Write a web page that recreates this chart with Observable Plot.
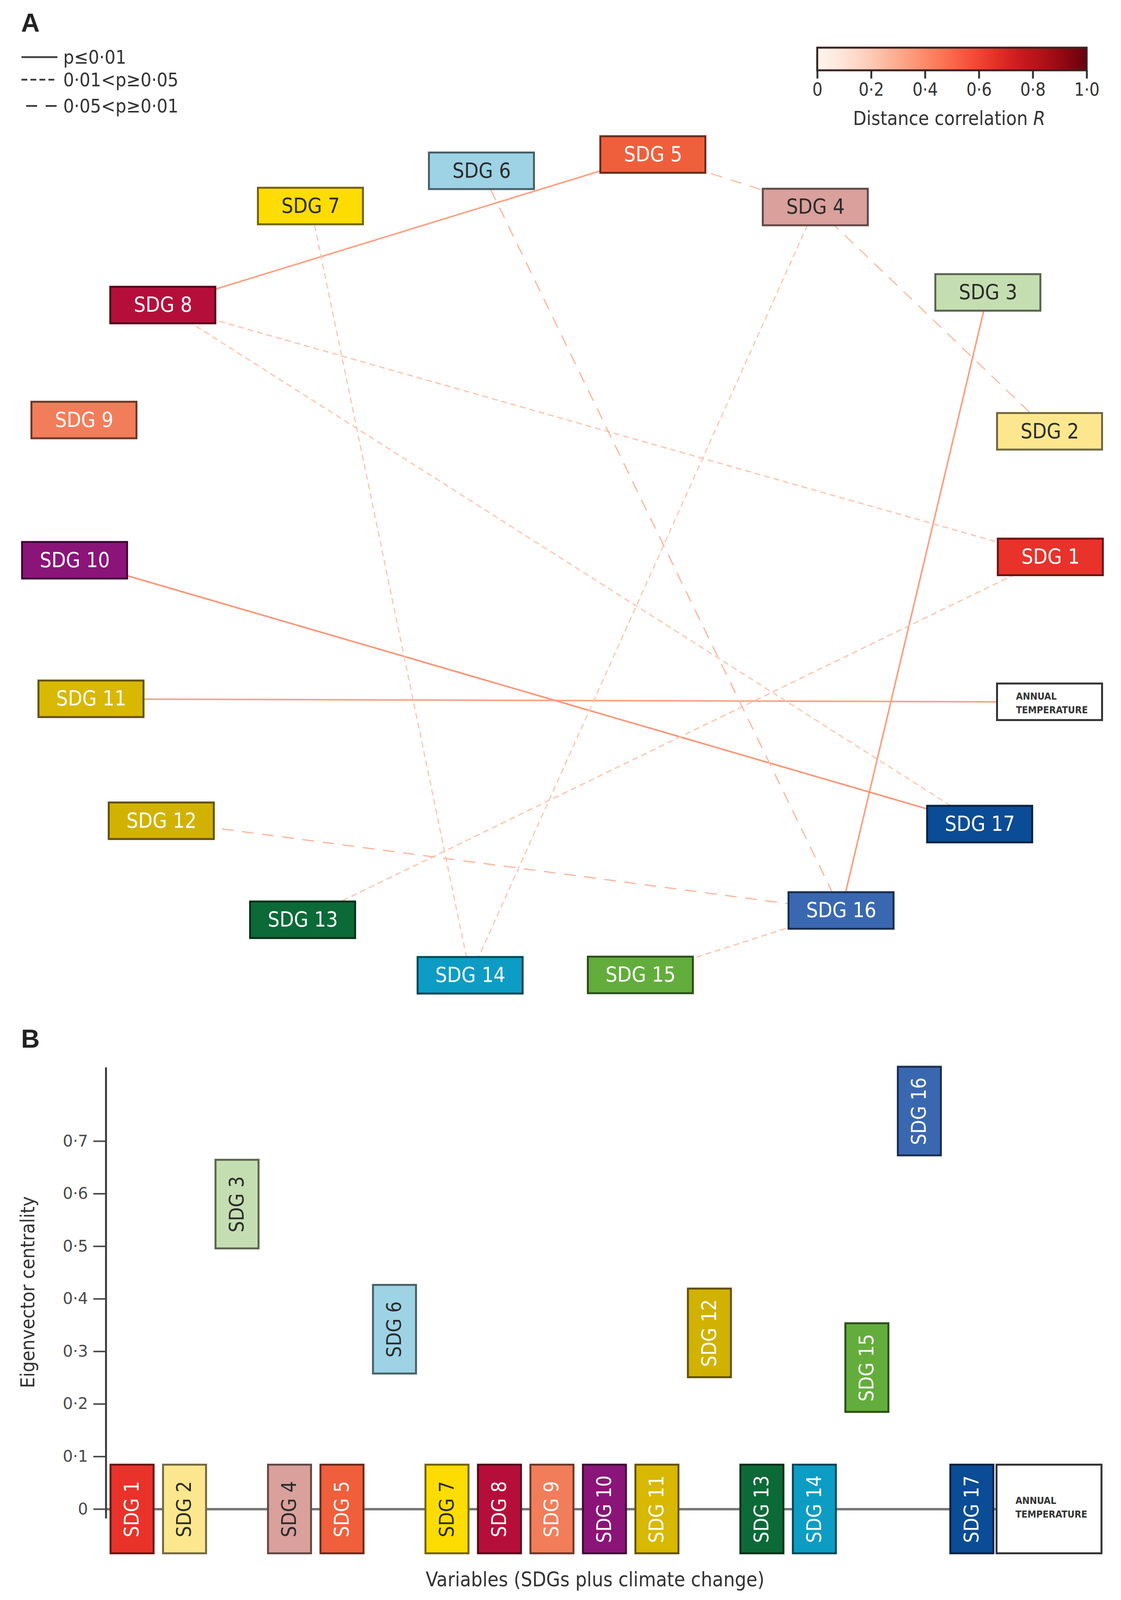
<!DOCTYPE html>
<html><head><meta charset="utf-8">
<script src="https://cdn.jsdelivr.net/npm/d3@7"></script>
<script src="https://cdn.jsdelivr.net/npm/@observablehq/plot@0.6"></script>
<style>
html,body{margin:0;padding:0;background:#fff;overflow:hidden;}
#page{position:relative;width:2871px;overflow:hidden;font-family:'DejaVu Sans Condensed','Open Sans',sans-serif;color:#333;}
.abs{position:absolute;white-space:nowrap;}
</style></head><body><div id="page"></div>
<script>
const FONT = "'DejaVu Sans Condensed','Open Sans',sans-serif";

// ---------- DATA ----------
const nodeNames = ["SDG 1","SDG 2","SDG 3","SDG 4","SDG 5","SDG 6","SDG 7","SDG 8","SDG 9","SDG 10","SDG 11","SDG 12","SDG 13","SDG 14","SDG 15","SDG 16","SDG 17","ANNUAL TEMPERATURE"];
// network layout coordinates
const nodeLayoutX = [2690, 2688, 2530, 2088, 1672, 1233, 795, 417, 215, 191, 233, 413, 775, 1204, 1640, 2154, 2509, 2688];
const nodeLayoutY = [1676, 1298, 880, 623, 465, 514, 620, 918, 1264, 1686, 2103, 2470, 2768, 2935, 2934, 2740, 2480, 2112];

const pClasses = ["p≤0·01", "0·01<p≥0·05", "0·05<p≥0·01"];
const edgeFrom = ["SDG 5","SDG 3","SDG 10","SDG 11","SDG 8","SDG 8","SDG 7","SDG 4","SDG 1","SDG 15","SDG 5","SDG 4","SDG 6","SDG 12"];
const edgeTo   = ["SDG 8","SDG 16","SDG 17","ANNUAL TEMPERATURE","SDG 1","SDG 17","SDG 14","SDG 14","SDG 13","SDG 16","SDG 4","SDG 2","SDG 16","SDG 16"];
const edgeR    = [0.33, 0.34, 0.37, 0.33, 0.22, 0.21, 0.21, 0.21, 0.22, 0.22, 0.24, 0.24, 0.26, 0.26];
const edgeP    = [pClasses[0],pClasses[0],pClasses[0],pClasses[0],pClasses[1],pClasses[1],pClasses[1],pClasses[1],pClasses[1],pClasses[1],pClasses[2],pClasses[2],pClasses[2],pClasses[2]];

const corrTicks = [0, 0.2, 0.4, 0.6, 0.8, 1.0];

// panel B
const centrality = [0, 0, 0.58, 0, 0, 0.342, 0, 0, 0, 0, 0, 0.335, 0, 0, 0.269, 0.757, 0, 0];
const centralityTicks = [0, 0.1, 0.2, 0.3, 0.4, 0.5, 0.6, 0.7];

// palette
const sdgColors = ["#e8322a","#fde78e","#c5deb1","#d9a09c","#ef5f3c","#9dd3e5","#fddc02","#b60e3a","#f27d5a","#8b1479","#d8b800","#d2b200","#0b6a37","#0c9cc4","#63ad3c","#3a68b0","#0a4c95","#ffffff"];
const darkText = new Set(["SDG 2","SDG 3","SDG 4","SDG 6","SDG 7","ANNUAL TEMPERATURE"]);

// ---------- layout: fit the 4816-px design into the actual viewport height ----------
const KY = Math.min(1, (window.innerHeight || 4816) / 4816);
const FS = 0.97;

// ---------- helpers ----------
const fmt = d => d === 0 ? "0" : d3.format(".1f")(d).replace(".", "·");
const fillOf = n => sdgColors[nodeNames.indexOf(n)];
const strokeOf = n => n === "ANNUAL TEMPERATURE" ? "#333" : d3.color(fillOf(n)).darker(2.2).formatHex();
const textOf = n => darkText.has(n) ? "#2b2b2b" : "#ffffff";

const page = document.getElementById("page");
page.style.height = Math.round(4816 * KY) + "px";
function addHTML(html, style) {
  const d = document.createElement("div");
  d.className = "abs";
  d.innerHTML = html;
  Object.assign(d.style, style);
  page.appendChild(d);
  return d;
}

// ---------- PANEL A ----------
const nodes = nodeNames.map((name, i) => ({name, x: nodeLayoutX[i], y: nodeLayoutY[i], temp: name === "ANNUAL TEMPERATURE"}));
const nodeBy = new Map(nodes.map(d => [d.name, d]));
const edges = edgeFrom.map((s, i) => ({s: nodeBy.get(s), t: nodeBy.get(edgeTo[i]), R: edgeR[i], p: edgeP[i]}));

const colorOpts = {type: "linear", scheme: "reds", domain: [0, 1]};
const reds = Plot.scale({color: colorOpts});

const BW = 269, BH = 110;
const dashFor = {[pClasses[0]]: null, [pClasses[1]]: "15,10", [pClasses[2]]: "30,22"};

const linkMark = p => Plot.link(edges.filter(e => e.p === p), {
  x1: e => e.s.x, y1: e => e.s.y, x2: e => e.t.x, y2: e => e.t.y,
  stroke: e => reds.apply(e.R),
  strokeWidth: p === pClasses[0] ? 4 : 3.2,
  strokeDasharray: dashFor[p]
});

const plotA = Plot.plot({
  width: 2871, height: Math.round(3040 * KY), margin: 0,
  x: {domain: [0, 2871], axis: null},
  y: {domain: [0, 3040], reverse: true, axis: null},
  color: {type: "identity"},
  style: {fontFamily: FONT, background: "transparent", overflow: "visible"},
  marks: [
    linkMark(pClasses[0]), linkMark(pClasses[1]), linkMark(pClasses[2]),
    Plot.rect(nodes, {
      x1: d => d.x - BW / 2, x2: d => d.x + BW / 2,
      y1: d => d.y - BH / 2, y2: d => d.y + BH / 2,
      fill: d => fillOf(d.name), stroke: d => strokeOf(d.name), strokeWidth: 5
    }),
    Plot.text(nodes.filter(d => !d.temp), {
      x: "x", y: "y", text: "name", fill: d => textOf(d.name),
      fontSize: 53, fontFamily: FONT, textAnchor: "middle"
    }),
    Plot.text(nodes.filter(d => d.temp), {
      x: d => d.x - BW / 2, y: "y", dx: 48, text: () => "ANNUAL\nTEMPERATURE",
      textAnchor: "start", fontSize: 25, fontWeight: "bold", lineHeight: 1.4,
      fill: "#333", fontFamily: FONT
    })
  ]
});
plotA.style.position = "absolute"; plotA.style.left = "0px"; plotA.style.top = "0px";
page.appendChild(plotA);

// panel label A
addHTML("A", {left: "54px", top: Math.round(68 * KY) + "px", transform: "translateY(-50%)", fontSize: "66px", fontWeight: "bold", fontFamily: "'Liberation Sans', Arial, sans-serif", color: "#222", lineHeight: "1"});

// p-value line legend
(function () {
  const rows = [
    {p: pClasses[0], y: 172, x1: 55},
    {p: pClasses[1], y: 240, x1: 55},
    {p: pClasses[2], y: 319, x1: 67}
  ];
  const ns = "http://www.w3.org/2000/svg";
  const svg = document.createElementNS(ns, "svg");
  svg.setAttribute("width", 600); svg.setAttribute("height", 380);
  svg.style.position = "absolute"; svg.style.left = "0px"; svg.style.top = "0px";
  rows.forEach(r => {
    const y = r.y * KY;
    const l = document.createElementNS(ns, "line");
    l.setAttribute("x1", r.x1); l.setAttribute("x2", 147);
    l.setAttribute("y1", y); l.setAttribute("y2", y);
    l.setAttribute("stroke", "#3a3a3a"); l.setAttribute("stroke-width", 4.5);
    if (dashFor[r.p]) l.setAttribute("stroke-dasharray", r.p === pClasses[1] ? "15,8" : "28,22");
    svg.appendChild(l);
    const t = document.createElementNS(ns, "text");
    t.setAttribute("x", 162); t.setAttribute("y", y);
    t.setAttribute("dominant-baseline", "central");
    t.setAttribute("font-size", 50 * FS); t.setAttribute("font-family", FONT);
    t.setAttribute("fill", "#333");
    t.textContent = r.p;
    svg.appendChild(t);
  });
  page.appendChild(svg);
})();

// colour ramp legend
(function () {
  const mt = 14, bar = Math.round(68 * KY), mb = 98;
  const leg = Plot.legend({
    color: colorOpts, width: 760, height: mt + bar + mb,
    marginTop: mt, marginBottom: mb, marginLeft: 30, marginRight: 40,
    ticks: corrTicks, tickSize: Math.round(25 * KY), tickFormat: fmt,
    style: {fontSize: (47 * FS) + "px", fontFamily: FONT, color: "#333", overflow: "visible", background: "transparent"}
  });
  const wrap = document.createElement("div");
  wrap.className = "abs";
  wrap.style.left = "2063px"; wrap.style.top = Math.round(144 * KY - mt) + "px";
  wrap.appendChild(leg);
  page.appendChild(wrap);
  const svg = wrap.querySelector("svg");
  svg.querySelectorAll(".tick line").forEach(l => { l.setAttribute("y1", 0); l.setAttribute("stroke-width", 5); l.setAttribute("stroke", "#3a3a3a"); });
  svg.querySelectorAll(".tick text").forEach(t => { t.setAttribute("y", Math.round(36 * KY + 2)); t.setAttribute("fill", "#333"); });
  const img = svg.querySelector("image");
  if (img) {
    const r = document.createElementNS("http://www.w3.org/2000/svg", "rect");
    ["x","y","width","height"].forEach(a => r.setAttribute(a, img.getAttribute(a)));
    r.setAttribute("fill", "none"); r.setAttribute("stroke", "#3a2222"); r.setAttribute("stroke-width", 5);
    img.parentNode.appendChild(r);
  }
})();
addHTML("Distance correlation <i>R</i>", {left: "2431px", top: Math.round(356 * KY) + "px", transform: "translate(-50%,-50%)", fontSize: (51 * FS) + "px", color: "#333"});

// ---------- PANEL B ----------
const B_HALF_W = 0.41, B_GAP = 0.06, B_TEMP_HALF_W = 1.0, B_HALF_H = 0.0843;
const bData = nodeNames.map((name, i) => ({
  name, v: centrality[i], temp: name === "ANNUAL TEMPERATURE",
  pos: name === "ANNUAL TEMPERATURE" ? 17 + B_HALF_W + B_GAP + B_TEMP_HALF_W : i + 1
}));
const halfW = d => d.temp ? B_TEMP_HALF_W : B_HALF_W;
const tempB = bData.find(d => d.temp);

const plotB = Plot.plot({
  width: 2871, height: Math.round(1776 * KY),
  marginLeft: 271, marginRight: 382, marginTop: Math.round(394 * KY), marginBottom: Math.round(274 * KY),
  x: {domain: [0.5, 17], axis: null},
  y: {domain: [0, 0.7], axis: null},
  color: {type: "identity"},
  style: {fontFamily: FONT, background: "transparent", overflow: "visible", color: "#4a4a4a"},
  marks: [
    Plot.ruleY([0], {x1: 0.5, x2: tempB.pos + B_TEMP_HALF_W, stroke: "#737373", strokeWidth: 6}),
    Plot.ruleX([0.5], {y1: -0.018, y2: 0.84, stroke: "#3f3f3f", strokeWidth: 5}),
    Plot.axisY({ticks: centralityTicks, tickFormat: fmt, tickSize: 32, tickPadding: 14,
      fontSize: 42 * FS, fontFamily: "'DejaVu Sans', sans-serif", strokeWidth: 4, label: null}),
    Plot.rect(bData, {
      x1: d => d.pos - halfW(d), x2: d => d.pos + halfW(d),
      y1: d => d.v - B_HALF_H, y2: d => d.v + B_HALF_H,
      fill: d => fillOf(d.name), stroke: d => strokeOf(d.name), strokeWidth: 5
    }),
    Plot.text(bData.filter(d => !d.temp), {
      x: "pos", y: "v", text: "name", rotate: -90, fill: d => textOf(d.name),
      fontSize: 51, fontFamily: FONT
    }),
    Plot.text(bData.filter(d => d.temp), {
      x: d => d.pos - B_TEMP_HALF_W, y: "v", dx: 48, dy: -7, text: () => "ANNUAL\nTEMPERATURE",
      textAnchor: "start", fontSize: 25, fontWeight: "bold", lineHeight: 1.4, fill: "#333", fontFamily: FONT
    })
  ]
});
plotB.style.position = "absolute"; plotB.style.left = "0px"; plotB.style.top = Math.round(3040 * KY) + "px";
page.appendChild(plotB);

addHTML("B", {left: "54px", top: Math.round(3126 * KY) + "px", transform: "translateY(-50%)", fontSize: "66px", fontWeight: "bold", fontFamily: "'Liberation Sans', Arial, sans-serif", color: "#222", lineHeight: "1"});
addHTML("Eigenvector centrality", {left: "71px", top: Math.round(3890 * KY) + "px", transform: "translate(-50%,-50%) rotate(-90deg)", fontSize: (51 * FS) + "px", color: "#333"});
addHTML("Variables (SDGs plus climate change)", {left: "1524px", top: Math.round(4754 * KY) + "px", transform: "translate(-50%,-50%)", fontSize: (53 * FS) + "px", color: "#333"});
</script></body></html>
